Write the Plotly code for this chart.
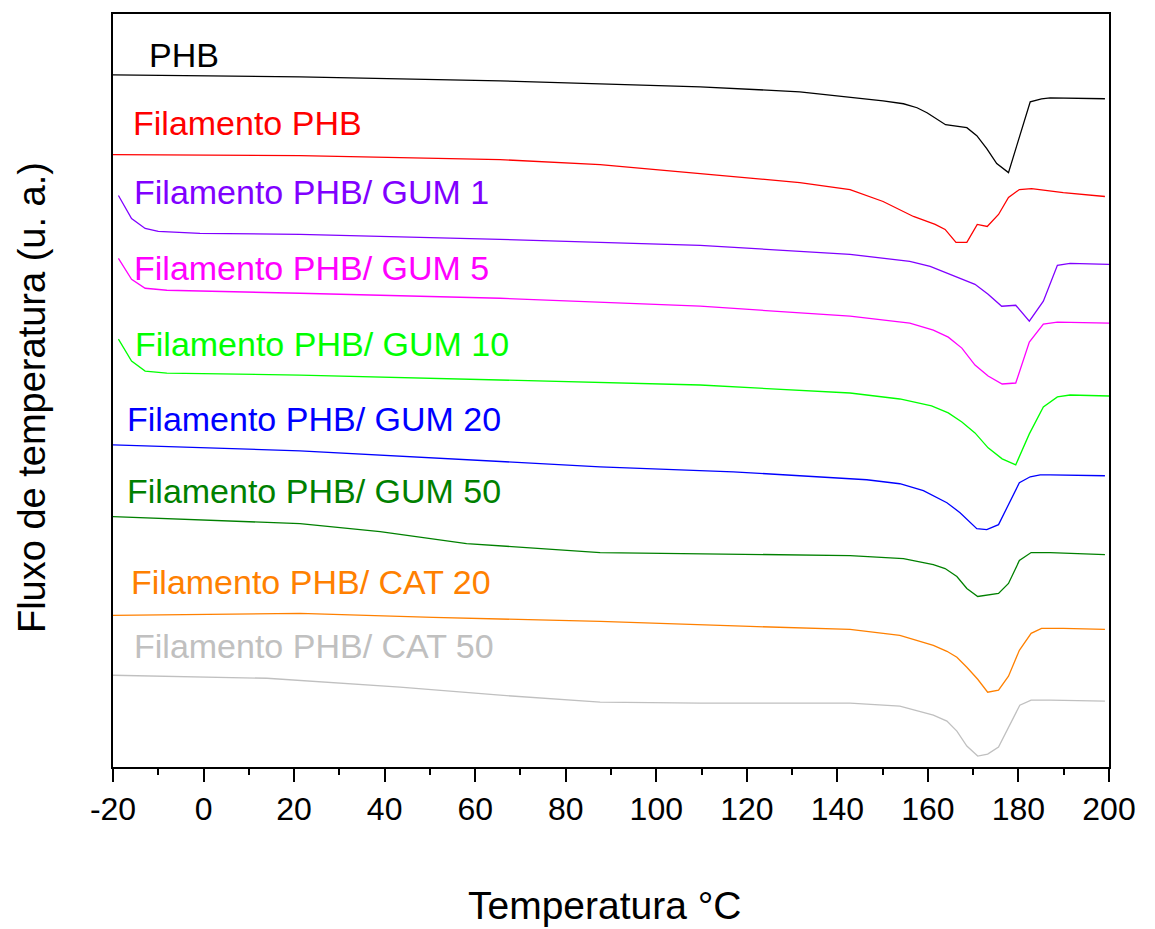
import plotly.graph_objects as go

# ---------------- data (temperature °C, heat flow a.u., curves offset) ----------------
phb_t = [-20, 21.3, 65.5, 109.7, 131.7, 142.8, 150.1, 154.6, 157.6, 159.8, 162.0, 163.9,
         168.6, 170.8, 173.0, 175.2, 177.8, 182.6, 185.1, 187.0, 199.1]
phb_y = [69.4, 69.2, 68.8, 68.2, 67.7, 67.2, 66.8, 66.5, 66.1, 65.6, 65.0, 64.4,
         64.1, 63.3, 62.0, 60.5, 59.6, 66.7, 67.0, 67.1, 67.0]

fil_t = [-20, 21.3, 65.5, 87.6, 109.7, 131.7, 142.8, 150.1, 156.8, 161.6, 163.8, 166.2,
         168.6, 170.9, 173.1, 175.6, 177.8, 180.2, 182.9, 189.9, 199.1]
fil_y = [61.4, 61.3, 60.9, 60.4, 59.5, 58.6, 57.9, 56.7, 55.2, 54.4, 53.9, 52.6,
         52.6, 54.4, 54.2, 55.4, 57.1, 57.9, 58.0, 57.6, 57.2]

gum1_t = [-18.8, -15.9, -12.9, -10.0, -0.8, 21.3, 65.5, 109.7, 142.8, 156.0, 160.5, 164.2,
          167.1, 170.4, 173.3, 176.3, 179.4, 182.4, 185.5, 188.6, 191.4, 200]
gum1_y = [57.3, 55.0, 54.0, 53.7, 53.5, 53.4, 52.9, 52.3, 51.4, 50.7, 50.2, 49.5,
          49.0, 48.4, 47.4, 46.2, 46.3, 44.7, 46.7, 50.3, 50.5, 50.4]

gum5_t = [-18.8, -15.9, -12.9, -8.1, 21.3, 65.5, 109.7, 142.8, 156.0, 161.2, 164.5, 167.5,
          170.4, 173.3, 176.4, 179.4, 182.4, 185.5, 188.6, 200]
gum5_y = [51.0, 48.9, 48.0, 47.8, 47.5, 47.0, 46.2, 45.2, 44.5, 43.8, 43.1, 42.0,
          40.3, 39.2, 38.4, 38.5, 42.6, 44.4, 44.6, 44.5]

gum10_t = [-18.8, -15.9, -12.9, -8.1, 21.3, 65.5, 109.7, 142.8, 153.8, 160.8, 164.5, 167.5,
           170.4, 173.3, 176.4, 179.4, 182.4, 185.5, 188.6, 191.4, 200]
gum10_y = [42.9, 40.7, 39.7, 39.5, 39.3, 38.8, 38.3, 37.5, 36.9, 36.2, 35.5, 34.6,
           33.5, 32.0, 30.9, 30.3, 33.4, 36.1, 37.1, 37.3, 37.2]

gum20_t = [-20, 21.3, 87.6, 117.0, 146.5, 153.8, 159.0, 164.2, 167.1, 170.8, 173.0, 175.6,
           180.2, 182.6, 184.8, 187.0, 199.1]
gum20_y = [32.3, 31.7, 30.1, 29.6, 28.8, 28.4, 27.7, 26.5, 25.5, 23.9, 23.8, 24.3,
           28.5, 29.1, 29.3, 29.3, 29.2]

gum50_t = [-20, 21.3, 39.0, 58.1, 87.6, 109.7, 142.8, 154.6, 161.2, 163.8, 166.4, 168.6,
           171.0, 175.6, 177.8, 180.2, 182.8, 187.0, 199.1]
gum50_y = [25.1, 24.4, 23.6, 22.4, 21.5, 21.4, 21.2, 20.9, 20.3, 19.9, 19.1, 17.9,
           17.1, 17.4, 18.4, 20.7, 21.5, 21.5, 21.3]

cat20_t = [-20, 21.3, 50.7, 87.6, 120.7, 142.8, 153.8, 161.2, 164.2, 166.4, 168.6, 171.0,
           173.2, 175.6, 177.8, 180.2, 182.8, 185.1, 189.9, 199.1]
cat20_y = [15.2, 15.4, 15.0, 14.6, 14.1, 13.8, 13.2, 12.2, 11.6, 11.0, 10.0, 8.8,
           7.5, 7.7, 9.1, 11.7, 13.4, 13.9, 13.9, 13.8]

cat50_t = [-20, 14.0, 43.4, 65.5, 87.6, 109.7, 142.8, 153.8, 161.2, 164.2, 166.4, 168.6,
           171.0, 173.2, 175.6, 178.0, 180.3, 182.8, 187.0, 199.1]
cat50_y = [9.2, 8.9, 8.0, 7.2, 6.5, 6.4, 6.4, 6.1, 5.2, 4.6, 3.6, 2.1,
           1.1, 1.3, 2.0, 4.1, 6.2, 6.7, 6.7, 6.6]

names = ["PHB", "Filamento PHB", "Filamento PHB/ GUM 1", "Filamento PHB/ GUM 5",
         "Filamento PHB/ GUM 10", "Filamento PHB/ GUM 20", "Filamento PHB/ GUM 50",
         "Filamento PHB/ CAT 20", "Filamento PHB/ CAT 50"]
colors = ["#000000", "#FF0000", "#8000FF", "#FF00FF", "#00FF00", "#0000FF", "#008000",
          "#FF8000", "#C0C0C0"]
series = [(phb_t, phb_y), (fil_t, fil_y), (gum1_t, gum1_y), (gum5_t, gum5_y),
          (gum10_t, gum10_y), (gum20_t, gum20_y), (gum50_t, gum50_y),
          (cat20_t, cat20_y), (cat50_t, cat50_y)]
# label anchor (temperature, heat flow) for the curve names
label_t = [-12.5, -16.0, -15.9, -15.9, -15.6, -17.35, -17.35, -16.5, -15.8]
label_y = [71.4, 64.6, 57.7, 50.0, 42.4, 34.9, 27.7, 18.5, 12.15]

x_ticks = [-20, 0, 20, 40, 60, 80, 100, 120, 140, 160, 180, 200]
x_ticktext = ["-20", "0", "20", "40", "60", "80", "100", "120", "140", "160", "180", "200"]

FONT = "Liberation Sans, Arial, sans-serif"

fig = go.Figure()
for (t, y), n, c in zip(series, names, colors):
    fig.add_trace(go.Scatter(x=t, y=y, mode="lines", name=n,
                             line=dict(color=c, width=1.3), showlegend=False))

for n, c, lt, ly in zip(names, colors, label_t, label_y):
    fig.add_annotation(x=lt, y=ly, xref="x", yref="y", text=n, showarrow=False,
                       xanchor="left", yanchor="middle",
                       font=dict(family=FONT, size=34, color=c))

fig.add_annotation(x=0.494, y=-0.1845, xref="paper", yref="paper", text="Temperatura °C",
                   showarrow=False, xanchor="center", yanchor="middle",
                   font=dict(family=FONT, size=39, color="black"))
fig.add_annotation(x=-0.0813, y=0.49, xref="paper", yref="paper",
                   text="Fluxo de temperatura (u. a.)", textangle=-90,
                   showarrow=False, xanchor="center", yanchor="middle",
                   font=dict(family=FONT, size=38, color="black"))

# page body adds an 8px offset, so the figure is 8px smaller than the window
fig.update_layout(
    width=1147, height=921,
    margin=dict(l=105, r=46, t=4, b=162),
    plot_bgcolor="white", paper_bgcolor="white",
    font=dict(family=FONT, color="black"),
    xaxis=dict(range=[-20, 200], tickvals=x_ticks, ticktext=x_ticktext,
               ticks="outside", ticklen=13,
               tickwidth=2, tickcolor="black", showline=True, linewidth=2,
               linecolor="black", mirror=True, showgrid=False, zeroline=False,
               tickfont=dict(family=FONT, size=32, color="black"),
               minor=dict(dtick=10, ticks="outside", ticklen=6, tickwidth=2,
                          tickcolor="black", showgrid=False)),
    yaxis=dict(range=[0, 75.5], showticklabels=False, ticks="", showline=True,
               linewidth=2, linecolor="black", mirror=True, showgrid=False,
               zeroline=False),
)

fig.write_html("out.html")
